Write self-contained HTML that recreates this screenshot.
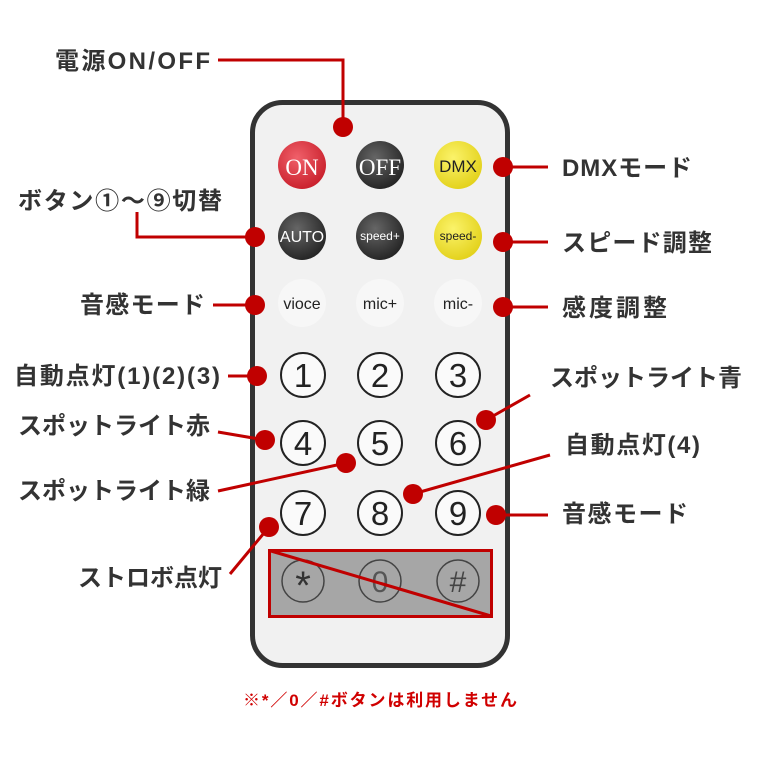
<!DOCTYPE html>
<html><head><meta charset="utf-8"><style>
html,body{margin:0;padding:0;background:#fff;width:760px;height:760px;overflow:hidden}
svg{display:block}
.l{font-family:"Liberation Sans","Noto Sans CJK JP",sans-serif;font-weight:bold;font-size:24px;fill:#333}
.b{font-family:"Liberation Sans",sans-serif;text-anchor:middle}
</style></head><body>
<svg width="760" height="760" viewBox="0 0 760 760">
<defs>
<radialGradient id="gr" cx="40%" cy="35%" r="70%"><stop offset="0" stop-color="#f0606a"/><stop offset="1" stop-color="#c81e2a"/></radialGradient>
<radialGradient id="gk" cx="40%" cy="35%" r="70%"><stop offset="0" stop-color="#666"/><stop offset="1" stop-color="#222"/></radialGradient>
<radialGradient id="gy" cx="40%" cy="35%" r="70%"><stop offset="0" stop-color="#fbf36a"/><stop offset="1" stop-color="#e2d018"/></radialGradient>
</defs>
<rect x="252.5" y="102.5" width="255" height="563" rx="30" fill="#f1f1f1" stroke="#333" stroke-width="5"/>
<circle cx="302" cy="165" r="24" fill="url(#gr)"/>
<text x="302" y="175" class="b" style="font-family:'Liberation Serif',serif" font-size="23" fill="#fff">ON</text>
<circle cx="380" cy="165" r="24" fill="url(#gk)"/>
<text x="380" y="175" class="b" style="font-family:'Liberation Serif',serif" font-size="23" fill="#fff">OFF</text>
<circle cx="458" cy="165" r="24" fill="url(#gy)"/>
<text x="458" y="172" class="b" font-size="17" fill="#222">DMX</text>
<circle cx="302" cy="236" r="24" fill="url(#gk)"/>
<text x="302" y="242" class="b" font-size="16" fill="#fff">AUTO</text>
<circle cx="380" cy="236" r="24" fill="url(#gk)"/>
<text x="380" y="240" class="b" font-size="12" fill="#fff">speed+</text>
<circle cx="458" cy="236" r="24" fill="url(#gy)"/>
<text x="458" y="240" class="b" font-size="12" fill="#222">speed-</text>
<circle cx="302" cy="303" r="24" fill="#f7f7f7"/>
<circle cx="380" cy="303" r="24" fill="#f7f7f7"/>
<circle cx="458" cy="303" r="24" fill="#f7f7f7"/>
<text x="302" y="309" class="b" font-size="16" fill="#222">vioce</text>
<text x="380" y="309" class="b" font-size="16" fill="#222">mic+</text>
<text x="458" y="309" class="b" font-size="16" fill="#222">mic-</text>
<g fill="#fafafa" stroke="#222" stroke-width="2">
<circle cx="303" cy="375" r="22"/><circle cx="380" cy="375" r="22"/><circle cx="458" cy="375" r="22"/>
<circle cx="303" cy="443" r="22"/><circle cx="380" cy="443" r="22"/><circle cx="458" cy="443" r="22"/>
<circle cx="303" cy="513" r="22"/><circle cx="380" cy="513" r="22"/><circle cx="458" cy="513" r="22"/>
</g>
<g font-size="33" fill="#222">
<text x="303" y="387" class="b">1</text><text x="380" y="387" class="b">2</text><text x="458" y="387" class="b">3</text>
<text x="303" y="455" class="b">4</text><text x="380" y="455" class="b">5</text><text x="458" y="455" class="b">6</text>
<text x="303" y="525" class="b">7</text><text x="380" y="525" class="b">8</text><text x="458" y="525" class="b">9</text>
</g>
<rect x="269.5" y="550.5" width="222" height="66" fill="#a6a6a6" stroke="#c00000" stroke-width="3"/>
<g fill="none" stroke="#444" stroke-width="1.5">
<circle cx="303" cy="581" r="21"/><circle cx="380" cy="581" r="21"/><circle cx="458" cy="581" r="21"/>
</g>
<text x="303" y="599" class="b" font-size="40" fill="#333">*</text>
<text x="380" y="592" class="b" font-size="30" fill="#555">0</text>
<text x="458" y="592" class="b" font-size="30" fill="#444">#</text>
<line x1="271" y1="551" x2="491" y2="616" stroke="#c00000" stroke-width="3"/>
<g stroke="#c00000" stroke-width="3" fill="none">
<polyline points="218,60 343,60 343,127"/>
<line x1="503" y1="167" x2="548" y2="167"/>
<polyline points="137,212 137,237 255,237"/>
<line x1="503" y1="242" x2="548" y2="242"/>
<line x1="213" y1="305" x2="255" y2="305"/>
<line x1="503" y1="307" x2="548" y2="307"/>
<line x1="228" y1="376" x2="257" y2="376"/>
<line x1="530" y1="395" x2="486" y2="420"/>
<line x1="218" y1="432" x2="265" y2="440"/>
<line x1="550" y1="455" x2="413" y2="494"/>
<line x1="218" y1="491" x2="346" y2="463"/>
<line x1="496" y1="515" x2="548" y2="515"/>
<line x1="230" y1="574" x2="269" y2="527"/>
</g>
<g fill="#c00000">
<circle cx="343" cy="127" r="10"/><circle cx="503" cy="167" r="10"/><circle cx="255" cy="237" r="10"/>
<circle cx="503" cy="242" r="10"/><circle cx="255" cy="305" r="10"/><circle cx="503" cy="307" r="10"/>
<circle cx="257" cy="376" r="10"/><circle cx="486" cy="420" r="10"/><circle cx="265" cy="440" r="10"/>
<circle cx="413" cy="494" r="10"/><circle cx="346" cy="463" r="10"/><circle cx="496" cy="515" r="10"/>
<circle cx="269" cy="527" r="10"/>
</g>
<text class="l" x="55" y="69" textLength="155" lengthAdjust="spacing">電源ON/OFF</text>
<text class="l" x="18" y="209" textLength="204" lengthAdjust="spacing">ボタン①～⑨切替</text>
<text class="l" x="80" y="313" textLength="125" lengthAdjust="spacing">音感モード</text>
<text class="l" x="14" y="384" textLength="206" lengthAdjust="spacing">自動点灯(1)(2)(3)</text>
<text class="l" x="18" y="434" textLength="192" lengthAdjust="spacing">スポットライト赤</text>
<text class="l" x="18" y="499" textLength="192" lengthAdjust="spacing">スポットライト緑</text>
<text class="l" x="78" y="586" textLength="144" lengthAdjust="spacing">ストロボ点灯</text>
<text class="l" x="562" y="176" textLength="130" lengthAdjust="spacing">DMXモード</text>
<text class="l" x="562" y="251" textLength="150" lengthAdjust="spacing">スピード調整</text>
<text class="l" x="562" y="316" textLength="105" lengthAdjust="spacing">感度調整</text>
<text class="l" x="550" y="386" textLength="192" lengthAdjust="spacing">スポットライト青</text>
<text class="l" x="565" y="453" textLength="135" lengthAdjust="spacing">自動点灯(4)</text>
<text class="l" x="562" y="522" textLength="126" lengthAdjust="spacing">音感モード</text>
<text x="243" y="706" textLength="274" lengthAdjust="spacing" style="font-family:'Liberation Sans','Noto Sans CJK JP',sans-serif;font-weight:bold;font-size:17px" fill="#d00000">※*／0／#ボタンは利用しません</text>
</svg>
</body></html>
